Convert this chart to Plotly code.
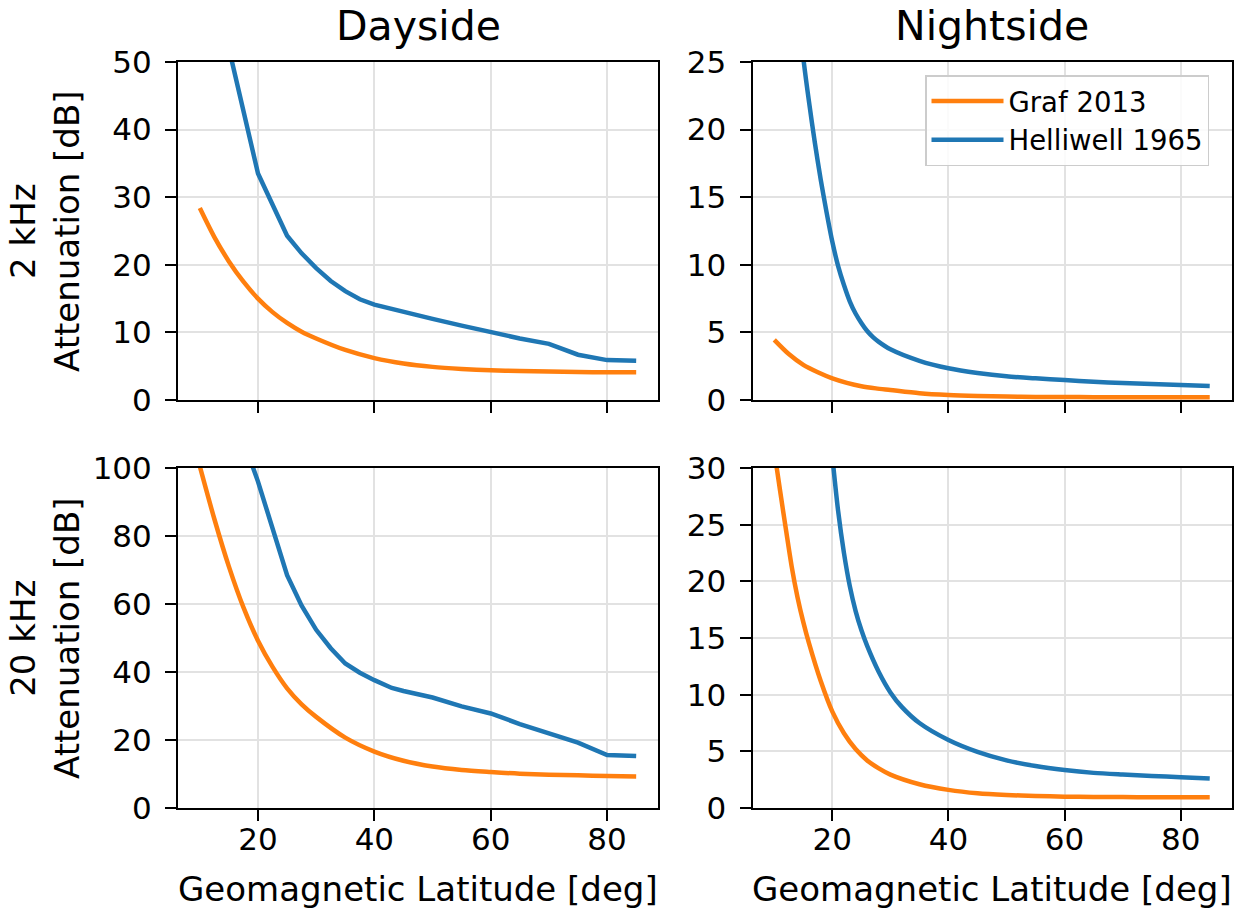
import plotly.graph_objects as go

# ---------------- data ----------------
graf_lat = [10, 12.5, 15, 17.5, 20, 22.5, 25, 27.5, 30, 35, 40, 45, 50, 55, 60, 65, 70, 75, 80, 85]

day2_graf = [28.4, 24.1, 20.5, 17.5, 15.0, 13.0, 11.4, 10.1, 9.1, 7.4, 6.2, 5.4, 4.9, 4.6, 4.4, 4.3, 4.2, 4.15, 4.1, 4.1]
day2_hell_lat = [15, 20, 25, 27.5, 30, 32.5, 35, 37.5, 40, 45, 50, 55, 60, 65, 70, 75, 80, 85]
day2_hell = [52, 33.5, 24.3, 21.7, 19.5, 17.6, 16.1, 14.9, 14.1, 13.0, 12.0, 11.0, 10.0, 9.1, 8.3, 6.7, 5.9, 5.8]

night2_graf = [4.45, 3.4, 2.6, 2.05, 1.6, 1.27, 1.02, 0.86, 0.74, 0.5, 0.37, 0.3, 0.26, 0.23, 0.22, 0.21, 0.2, 0.2, 0.2, 0.2]
night2_hell_lat = [14, 15, 16, 17, 18, 19, 20, 21, 22, 23, 24, 25, 26, 27, 28, 30, 35, 40, 45, 50, 55, 60, 65, 70, 75, 80, 85]
night2_hell = [29.5, 25.3, 22.0, 19.0, 16.3, 13.9, 11.7, 9.9, 8.5, 7.3, 6.4, 5.7, 5.1, 4.65, 4.3, 3.75, 2.9, 2.35, 2.0, 1.75, 1.6, 1.48, 1.35, 1.25, 1.18, 1.11, 1.04]

day20_graf = [100.5, 85, 71, 59, 49.2, 41.5, 35.2, 30.5, 26.8, 20.7, 16.6, 13.9, 12.2, 11.2, 10.6, 10.1, 9.8, 9.6, 9.4, 9.3]
day20_hell_lat = [15, 20, 25, 27.5, 30, 32.5, 35, 37.5, 40, 43, 45, 50, 55, 60, 65, 70, 75, 80, 85]
day20_hell = [120, 96, 68.5, 59.5, 52.4, 47.0, 42.5, 39.8, 37.6, 35.3, 34.4, 32.5, 29.9, 27.8, 24.7, 21.8, 19.2, 15.6, 15.3]

night20_graf_lat = [10, 11, 12, 13, 14, 15, 16, 18, 20, 22, 24, 26, 28, 30, 35, 40, 45, 50, 55, 60, 65, 70, 75, 80, 85]
night20_graf = [31.5, 28.0, 24.6, 21.3, 18.6, 16.4, 14.5, 11.2, 8.5, 6.6, 5.2, 4.2, 3.5, 2.95, 2.1, 1.6, 1.3, 1.15, 1.06, 1.0, 0.98, 0.96, 0.95, 0.94, 0.94]
night20_hell_lat = [20, 21, 22, 23, 24, 25, 26, 28, 30, 32, 35, 40, 45, 50, 55, 60, 65, 70, 75, 80, 85]
night20_hell = [31, 26.2, 22.5, 19.6, 17.4, 15.7, 14.3, 12.0, 10.2, 8.9, 7.5, 6.0, 4.95, 4.2, 3.7, 3.35, 3.1, 2.95, 2.82, 2.72, 2.6]

col_titles = ["Dayside", "Nightside"]
row_labels = ["2 kHz<br>Attenuation [dB]", "20 kHz<br>Attenuation [dB]"]
x_label = "Geomagnetic Latitude [deg]"
series_names = ["Graf 2013", "Helliwell 1965"]
x_ticks = [20, 40, 60, 80]

ORANGE = "#ff7f0e"
BLUE = "#1f77b4"
FONT = "DejaVu Sans"
W, H = 1234, 911

fig = go.Figure()

panels = [
    ("x", "y", graf_lat, day2_graf, day2_hell_lat, day2_hell, "linear", False),
    ("x2", "y2", graf_lat, night2_graf, night2_hell_lat, night2_hell, "spline", True),
    ("x3", "y3", graf_lat, day20_graf, day20_hell_lat, day20_hell, "linear", False),
    ("x4", "y4", night20_graf_lat, night20_graf, night20_hell_lat, night20_hell, "spline", False),
]
for xa, ya, gx, gy, hx, hy, hshape, leg in panels:
    fig.add_trace(go.Scatter(x=gx, y=gy, xaxis=xa, yaxis=ya, mode="lines",
                             name=series_names[0], showlegend=leg,
                             line=dict(color=ORANGE, width=4.5, shape="spline", smoothing=0.8)))
    fig.add_trace(go.Scatter(x=hx, y=hy, xaxis=xa, yaxis=ya, mode="lines",
                             name=series_names[1], showlegend=leg,
                             line=dict(color=BLUE, width=4.5, shape=hshape, smoothing=0.8)))

xl = [178 / W, 658 / W]
xr = [752.5 / W, 1231.5 / W]
yt = [1 - 400 / H, 1 - 62 / H]
yb = [1 - 808 / H, 1 - 468 / H]

common = dict(showline=True, mirror=True, linecolor="black", linewidth=2,
              ticks="outside", ticklen=11, tickwidth=2, tickcolor="black",
              showgrid=True, gridcolor="#e2e2e2", gridwidth=1.5, zeroline=False,
              automargin=False,
              tickfont=dict(family=FONT, size=31, color="black"))

xcommon = dict(common, range=[6.25, 88.75], tickvals=x_ticks, ticklabelstandoff=-8)
ycommon = dict(common, ticklabelstandoff=7)
fig.update_layout(
    template="none",
    xaxis=dict(xcommon, domain=xl, anchor="y", showticklabels=False),
    xaxis2=dict(xcommon, domain=xr, anchor="y2", showticklabels=False),
    xaxis3=dict(xcommon, domain=xl, anchor="y3"),
    xaxis4=dict(xcommon, domain=xr, anchor="y4"),
    yaxis=dict(ycommon, domain=yt, anchor="x", range=[0, 50], dtick=10),
    yaxis2=dict(ycommon, domain=yt, anchor="x2", range=[0, 25], dtick=5),
    yaxis3=dict(ycommon, domain=yb, anchor="x3", range=[0, 100], dtick=20),
    yaxis4=dict(ycommon, domain=yb, anchor="x4", range=[0, 30], dtick=5),
)

annotations = []
for i, t in enumerate(col_titles):
    dom = xl if i == 0 else xr
    annotations.append(dict(text=t, x=(dom[0] + dom[1]) / 2, y=1 - 52 / H, xref="paper", yref="paper",
                            xanchor="center", yanchor="bottom", showarrow=False,
                            font=dict(family=FONT, size=41, color="black")))
for i, t in enumerate(row_labels):
    dom = yt if i == 0 else yb
    annotations.append(dict(text=t, x=45 / W, y=(dom[0] + dom[1]) / 2, xref="paper", yref="paper",
                            xanchor="center", yanchor="middle", textangle=-90, showarrow=False,
                            font=dict(family=FONT, size=34, color="black")))
for dom in (xl, xr):
    annotations.append(dict(text=x_label, x=(dom[0] + dom[1]) / 2, y=0, xref="paper", yref="paper",
                            xanchor="center", yanchor="bottom", showarrow=False,
                            font=dict(family=FONT, size=34, color="black")))

fig.update_layout(
    width=W, height=H, autosize=False,
    margin=dict(l=0, r=0, t=0, b=0, pad=0),
    paper_bgcolor="white", plot_bgcolor="white",
    font=dict(family=FONT, size=31, color="black"),
    annotations=annotations,
    showlegend=True,
    legend=dict(x=925 / W, y=1 - 75 / H, xanchor="left", yanchor="top",
                bgcolor="rgba(255,255,255,0.85)", bordercolor="#cccccc", borderwidth=1.5,
                font=dict(family=FONT, size=27.5, color="black"), tracegroupgap=0,
                itemwidth=72),
)

fig.write_html("out.html")
